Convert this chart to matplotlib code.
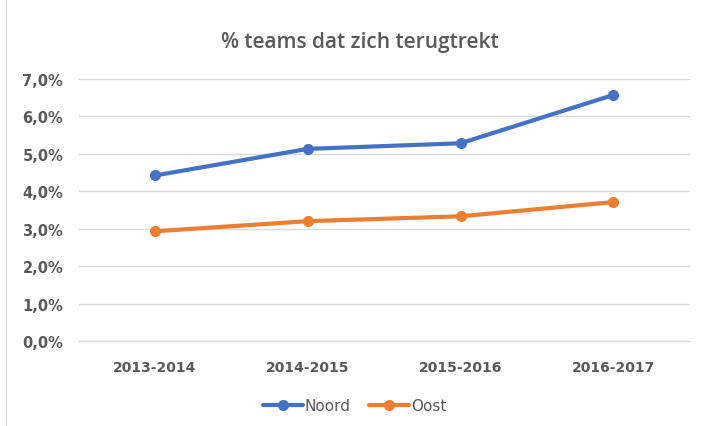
import matplotlib.pyplot as plt
from matplotlib.ticker import FuncFormatter
from matplotlib.patches import Rectangle

# Data
seasons = ['2013-2014', '2014-2015', '2015-2016', '2016-2017']
noord = [4.42, 5.13, 5.28, 6.57]
oost = [2.93, 3.20, 3.33, 3.71]

title = '% teams dat zich terugtrekt'
grey_text = '#595959'


def pct_fmt(v, pos):
    return ('%.1f%%' % v).replace('.', ',')


fig = plt.figure(figsize=(7.01, 4.27), dpi=100)
ax = fig.add_axes([0.112, 0.199, 0.872, 0.614])

x = range(len(seasons))
ax.plot(x, noord, color='#4472C4', linewidth=3, marker='o', markersize=7,
        label='Noord', solid_capstyle='round', zorder=3)
ax.plot(x, oost, color='#ED7D31', linewidth=3, marker='o', markersize=7,
        label='Oost', solid_capstyle='round', zorder=3)

ax.set_xlim(-0.5, len(seasons) - 0.5)
ax.set_ylim(0, 7)
ax.set_yticks(range(0, 8))
ax.yaxis.set_major_formatter(FuncFormatter(pct_fmt))
ax.set_xticks(list(x))
ax.set_xticklabels(seasons)

ax.grid(axis='y', color='#D9D9D9', linewidth=1)
ax.set_axisbelow(True)
for side in ['top', 'right', 'left']:
    ax.spines[side].set_visible(False)
ax.spines['bottom'].set_color('#D9D9D9')
ax.spines['bottom'].set_linewidth(1)

ax.tick_params(axis='y', length=0, pad=11, labelsize=10.5, labelcolor=grey_text)
ax.tick_params(axis='x', length=0, pad=14, labelsize=10, labelcolor=grey_text)
for lbl in ax.get_xticklabels() + ax.get_yticklabels():
    lbl.set_fontweight('bold')

fig.text(0.513, 0.9, title, ha='center', va='center', fontsize=15,
         color=grey_text, fontweight='semibold', family='Open Sans')

leg = fig.legend(loc='center', bbox_to_anchor=(0.506, 0.047), ncol=2,
                 frameon=False, fontsize=11, handlelength=2.6,
                 columnspacing=1.2, handletextpad=0.15)
for t in leg.get_texts():
    t.set_color(grey_text)

# light chart border (left edge visible)
fig.patches.append(Rectangle((0.009, -0.01), 1.05, 1.05, transform=fig.transFigure,
                             fill=False, edgecolor='#D9D9D9', linewidth=1))

plt.savefig('out.png', dpi=100)
plt.close()
